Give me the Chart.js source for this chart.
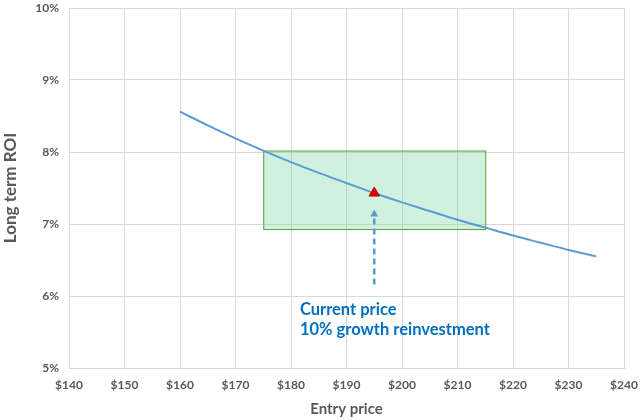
<!DOCTYPE html>
<html>
<head>
<meta charset="utf-8">
<script src="https://cdn.jsdelivr.net/npm/chart.js@4/dist/chart.umd.min.js"></script>
<style>
  html, body { margin: 0; padding: 0; background: #fff; }
  #wrap { width: 640px; height: 420px; }
</style>
</head>
<body>
<div id="wrap"><canvas id="roi-chart" width="640" height="420"></canvas></div>
<script>
// entry price vs long term ROI (%)
const prices = [160, 165, 170, 175, 180, 185, 190, 195, 200, 205, 210, 215, 220, 225, 230, 235];
const roi = [8.56, 8.37, 8.19, 8.02, 7.86, 7.71, 7.57, 7.43, 7.30, 7.18, 7.06, 6.95, 6.84, 6.74, 6.64, 6.55];

// current price marker
const currentPrice = [195];
const currentRoi = [7.43];

// range box: [minPrice, maxPrice], [minRoi, maxRoi]
const boxPrices = [175, 215];
const boxRoi = [6.93, 8.02];

// dashed arrow from / to (price, roi)
const arrowFrom = [195, 6.16];
const arrowTo = [195, 7.2];

const noteLines = ['Current price', '10% growth reinvestment'];
const notePos = [181.6, 5.81];

const xTicks = [140, 150, 160, 170, 180, 190, 200, 210, 220, 230, 240];
const yTicks = [5, 6, 7, 8, 9, 10];

const gray = '#595959';
const fontFamily = 'Lato, "Open Sans", sans-serif';

const boxPlugin = {
  id: 'rangeBox',
  beforeDatasetsDraw(chart) {
    const { ctx, scales: { x, y } } = chart;
    const x0 = x.getPixelForValue(boxPrices[0]);
    const x1 = x.getPixelForValue(boxPrices[1]);
    const y0 = y.getPixelForValue(boxRoi[1]);
    const y1 = y.getPixelForValue(boxRoi[0]);
    ctx.save();
    ctx.fillStyle = 'rgba(120, 214, 160, 0.35)';
    ctx.fillRect(x0, y0, x1 - x0, y1 - y0);
    ctx.strokeStyle = '#5f9e3a';
    ctx.lineWidth = 1;
    ctx.strokeRect(x0 + 0.5, y0 + 0.5, x1 - x0, y1 - y0);
    ctx.restore();
  },
  afterDatasetsDraw(chart) {
    const { ctx, scales: { x, y } } = chart;
    const ax = x.getPixelForValue(arrowFrom[0]);
    const ay0 = y.getPixelForValue(arrowFrom[1]);
    const ay1 = y.getPixelForValue(arrowTo[1]);
    ctx.save();
    ctx.strokeStyle = '#5b9bd5';
    ctx.fillStyle = '#5b9bd5';
    ctx.lineWidth = 2.5;
    ctx.setLineDash([6, 4]);
    ctx.beginPath();
    ctx.moveTo(ax, ay0);
    ctx.lineTo(ax, ay1 + 5);
    ctx.stroke();
    ctx.setLineDash([]);
    ctx.beginPath();
    ctx.moveTo(ax, ay1);
    ctx.lineTo(ax - 4, ay1 + 7);
    ctx.lineTo(ax + 4, ay1 + 7);
    ctx.closePath();
    ctx.fill();

    ctx.fillStyle = '#0070c0';
    ctx.font = 'bold 16.5px ' + fontFamily;
    ctx.textBaseline = 'middle';
    ctx.textAlign = 'left';
    const tx = x.getPixelForValue(notePos[0]);
    const ty = y.getPixelForValue(notePos[1]);
    noteLines.forEach((line, i) => ctx.fillText(line, tx, ty + i * 20));
    ctx.restore();
  },
};

new Chart(document.getElementById('roi-chart'), {
  type: 'scatter',
  data: {
    datasets: [
      {
        label: 'Current price',
        data: currentPrice.map((p, i) => ({ x: p, y: currentRoi[i] })),
        pointStyle: 'triangle',
        pointRadius: 6,
        backgroundColor: '#e00000',
        borderColor: '#c00000',
        borderWidth: 1,
      },
      {
        label: 'Long term ROI',
        data: prices.map((p, i) => ({ x: p, y: roi[i] })),
        showLine: true,
        borderColor: '#5b9bd5',
        borderWidth: 2,
        pointRadius: 0,
        cubicInterpolationMode: 'monotone',
      },
    ],
  },
  options: {
    responsive: false,
    animation: false,
    layout: { padding: { top: 8, right: 16, left: 0, bottom: 0 } },
    plugins: {
      legend: { display: false },
      tooltip: { enabled: false },
    },
    scales: {
      x: {
        type: 'linear',
        min: xTicks[0],
        max: xTicks[xTicks.length - 1],
        afterBuildTicks: (scale) => { scale.ticks = xTicks.map((v) => ({ value: v })); },
        afterFit: (scale) => {
          scale.height = 52;
          scale.paddingLeft = 0;
          scale.paddingRight = 0;
        },
        grid: { color: '#d9d9d9', drawTicks: false },
        border: { color: '#d9d9d9' },
        ticks: {
          padding: 10,
          color: gray,
          font: { family: fontFamily, size: 12, weight: 'bold' },
          callback: (v) => '$' + v,
        },
        title: {
          display: true,
          text: 'Entry price',
          color: gray,
          font: { family: fontFamily, size: 15, weight: 'bold' },
          padding: { top: 0, bottom: 2 },
        },
      },
      y: {
        min: yTicks[0],
        max: yTicks[yTicks.length - 1],
        afterBuildTicks: (scale) => { scale.ticks = yTicks.map((v) => ({ value: v })); },
        afterFit: (scale) => {
          scale.width = 69;
          scale.paddingTop = 0;
          scale.paddingBottom = 0;
        },
        grid: { color: '#d9d9d9', drawTicks: false },
        border: { color: '#d9d9d9' },
        ticks: {
          padding: 10,
          color: gray,
          font: { family: fontFamily, size: 12, weight: 'bold' },
          callback: (v) => v + '%',
        },
        title: {
          display: true,
          text: 'Long term ROI',
          color: gray,
          font: { family: fontFamily, size: 17, weight: 'bold' },
          padding: { top: 0, bottom: 0 },
        },
      },
    },
  },
  plugins: [boxPlugin],
});
</script>
</body>
</html>
